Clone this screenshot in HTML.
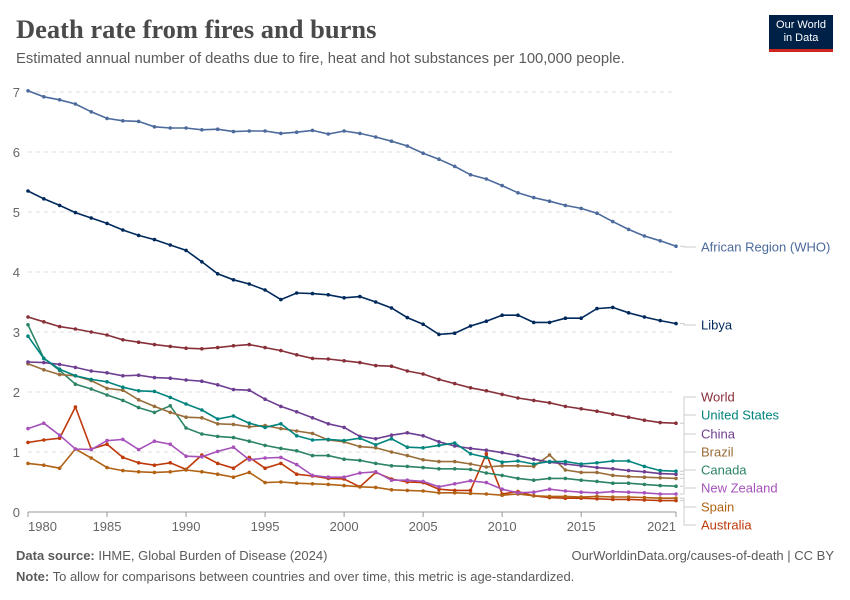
<!DOCTYPE html>
<html><head><meta charset="utf-8">
<style>
body{margin:0;background:#fff;font-family:"Liberation Sans",sans-serif;}
#wrap{position:relative;width:850px;height:600px;overflow:hidden;}
.title{position:absolute;left:16px;top:14px;font-family:"Liberation Serif",serif;font-weight:bold;font-size:26.5px;color:#4a4a4a;}
.sub{position:absolute;left:16px;top:51px;font-size:14.8px;color:#5b5b5b;}
.logo{position:absolute;left:769px;top:15px;width:64px;height:37px;background:#002147;color:#fff;font-size:11px;text-align:center;line-height:13px;padding-top:4px;box-sizing:border-box;border-bottom:3px solid #ce261e;}
.foot{position:absolute;left:16px;font-size:13px;color:#5b5b5b;}
</style></head><body>
<div id="wrap">
<div class="title">Death rate from fires and burns</div>
<div class="sub">Estimated annual number of deaths due to fire, heat and hot substances per 100,000 people.</div>
<div class="logo">Our World<br>in Data</div>
<svg id="chart" width="850" height="600" style="position:absolute;left:0;top:0"></svg>
<div class="foot" style="top:548px"><b>Data source:</b> IHME, Global Burden of Disease (2024)</div>
<div class="foot" style="top:548px;left:auto;right:16px">OurWorldinData.org/causes-of-death | CC BY</div>
<div class="foot" style="top:569px"><b>Note:</b> To allow for comparisons between countries and over time, this metric is age-standardized.</div>
</div>
<script>
const years=[];for(let y=1980;y<=2021;y++)years.push(y);
const yTicks=[0,1,2,3,4,5,6,7];
const xTicks=[1980,1985,1990,1995,2000,2005,2010,2015,2021];
const africa=[7.02,6.92,6.87,6.80,6.67,6.56,6.52,6.51,6.42,6.40,6.40,6.37,6.38,6.34,6.35,6.35,6.31,6.33,6.36,6.30,6.35,6.31,6.25,6.18,6.10,5.98,5.88,5.76,5.62,5.55,5.44,5.32,5.24,5.18,5.11,5.06,4.98,4.84,4.71,4.60,4.52,4.43];
const libya=[5.35,5.22,5.11,4.99,4.90,4.81,4.70,4.61,4.54,4.45,4.36,4.17,3.97,3.87,3.80,3.70,3.54,3.65,3.64,3.62,3.57,3.59,3.50,3.40,3.24,3.13,2.96,2.98,3.10,3.18,3.28,3.28,3.16,3.16,3.23,3.23,3.39,3.41,3.32,3.25,3.19,3.14];
const world=[3.25,3.17,3.09,3.05,3.00,2.95,2.87,2.83,2.79,2.76,2.73,2.72,2.74,2.77,2.79,2.74,2.69,2.62,2.56,2.55,2.52,2.49,2.44,2.43,2.35,2.30,2.21,2.14,2.07,2.02,1.96,1.90,1.86,1.82,1.76,1.72,1.68,1.63,1.58,1.53,1.49,1.48];
const usa=[2.93,2.56,2.38,2.27,2.21,2.17,2.08,2.02,2.01,1.91,1.80,1.70,1.55,1.60,1.48,1.41,1.47,1.27,1.20,1.21,1.19,1.23,1.12,1.22,1.08,1.07,1.11,1.15,0.97,0.91,0.83,0.85,0.80,0.84,0.84,0.80,0.82,0.85,0.85,0.76,0.69,0.68];
const china=[2.50,2.49,2.46,2.41,2.35,2.32,2.27,2.28,2.24,2.23,2.20,2.18,2.12,2.04,2.03,1.88,1.76,1.67,1.57,1.47,1.41,1.26,1.22,1.28,1.32,1.27,1.17,1.10,1.06,1.03,0.99,0.94,0.88,0.83,0.80,0.77,0.74,0.72,0.69,0.67,0.64,0.63];
const canada=[3.12,2.56,2.36,2.13,2.05,1.95,1.86,1.74,1.66,1.77,1.40,1.30,1.26,1.24,1.18,1.11,1.06,1.02,0.94,0.94,0.88,0.86,0.81,0.77,0.76,0.74,0.72,0.72,0.71,0.65,0.61,0.56,0.53,0.56,0.56,0.53,0.51,0.48,0.48,0.46,0.44,0.43];
const brazil=[2.47,2.37,2.29,2.27,2.19,2.06,2.03,1.87,1.76,1.66,1.58,1.57,1.47,1.46,1.42,1.44,1.39,1.35,1.31,1.20,1.17,1.09,1.07,1.00,0.94,0.87,0.84,0.84,0.80,0.75,0.77,0.77,0.76,0.95,0.70,0.66,0.66,0.61,0.59,0.58,0.57,0.56];
const nz=[1.39,1.48,1.28,1.05,1.04,1.19,1.21,1.04,1.18,1.13,0.93,0.92,1.01,1.08,0.87,0.90,0.91,0.79,0.61,0.58,0.58,0.65,0.67,0.53,0.53,0.51,0.42,0.47,0.52,0.49,0.38,0.32,0.33,0.38,0.35,0.33,0.32,0.34,0.33,0.32,0.30,0.30];
const spain=[0.81,0.78,0.73,1.05,0.90,0.74,0.69,0.67,0.66,0.67,0.70,0.67,0.63,0.58,0.66,0.49,0.50,0.48,0.47,0.46,0.44,0.42,0.41,0.37,0.36,0.35,0.32,0.32,0.31,0.30,0.28,0.30,0.27,0.26,0.26,0.25,0.26,0.25,0.25,0.24,0.23,0.23];
const australia=[1.16,1.20,1.23,1.75,1.05,1.13,0.91,0.82,0.78,0.82,0.71,0.95,0.81,0.73,0.91,0.73,0.81,0.63,0.60,0.56,0.55,0.42,0.66,0.55,0.50,0.49,0.38,0.36,0.36,0.97,0.30,0.34,0.27,0.24,0.23,0.23,0.22,0.21,0.21,0.20,0.19,0.19];
const series=[
 {name:'African Region (WHO)',key:'africa',data:africa,color:'#4c6a9c',ly:247},
 {name:'Libya',key:'libya',data:libya,color:'#00295b',ly:325},
 {name:'World',key:'world',data:world,color:'#883039',ly:397},
 {name:'United States',key:'united-states',data:usa,color:'#00847e',ly:415},
 {name:'China',key:'china',data:china,color:'#6d3e91',ly:434},
 {name:'Brazil',key:'brazil',data:brazil,color:'#996d39',ly:452},
 {name:'Canada',key:'canada',data:canada,color:'#2c8465',ly:470},
 {name:'New Zealand',key:'new-zealand',data:nz,color:'#a652ba',ly:488},
 {name:'Spain',key:'spain',data:spain,color:'#b16214',ly:507},
 {name:'Australia',key:'australia',data:australia,color:'#be3a0a',ly:525}
];
const X0=28,X1=676,Y0=512,Y1=92;
const xs=y=>X0+(y-1980)*(X1-X0)/(2021-1980);
const ys=v=>Y0-v*(Y0-Y1)/7;
const svg=document.getElementById('chart');
const NS='http://www.w3.org/2000/svg';
function mk(t,a){const e=document.createElementNS(NS,t);for(const k in a)e.setAttribute(k,a[k]);svg.appendChild(e);return e;}
yTicks.forEach(t=>{
 if(t>0){const l=mk('line',{x1:X0,x2:X1,y1:ys(t),y2:ys(t),stroke:'#ddd','stroke-dasharray':'4,4'});
 
 }
 const tx=mk('text',{x:20,y:ys(t)+5,'text-anchor':'end','font-size':13,fill:'#666','font-family':'Liberation Sans, sans-serif'});
 tx.textContent=t;
 
 
});
const ax=mk('line',{x1:X0,x2:X1,y1:Y0,y2:Y0,stroke:'#999'});


xTicks.forEach((t,i)=>{
 const tk=mk('line',{x1:xs(t),x2:xs(t),y1:Y0,y2:Y0+5,stroke:'#999'});
 
 
 const anchor=i===0?'start':(i===xTicks.length-1?'end':'middle');
 const tx=mk('text',{x:xs(t),y:Y0+19,'text-anchor':anchor,'font-size':13,fill:'#666','font-family':'Liberation Sans, sans-serif'});
 tx.textContent=t;
 
 
});
series.slice().reverse().forEach(s=>{
 const pts=s.data.map((v,i)=>xs(years[i])+','+ys(v)).join(' ');
 const pl=mk('polyline',{points:pts,fill:'none',stroke:s.color,'stroke-width':1.6});
 
 
 s.data.forEach((v,i)=>{
  const c=mk('circle',{cx:xs(years[i]),cy:ys(v),r:1.8,fill:s.color});
  
  
 });
});
series.forEach(s=>{
 const last=s.data[s.data.length-1];
 const ey=ys(last);
 const p=mk('path',{d:`M${X1+4},${ey} H${684} V${s.ly} H${696}`,fill:'none',stroke:'#ccc','stroke-width':1});
 
 
 const tx=mk('text',{x:701,y:s.ly+4.5,'font-size':13,fill:s.color,'font-family':'Liberation Sans, sans-serif'});
 tx.textContent=s.name;
 
 
});
</script>
</body></html>
